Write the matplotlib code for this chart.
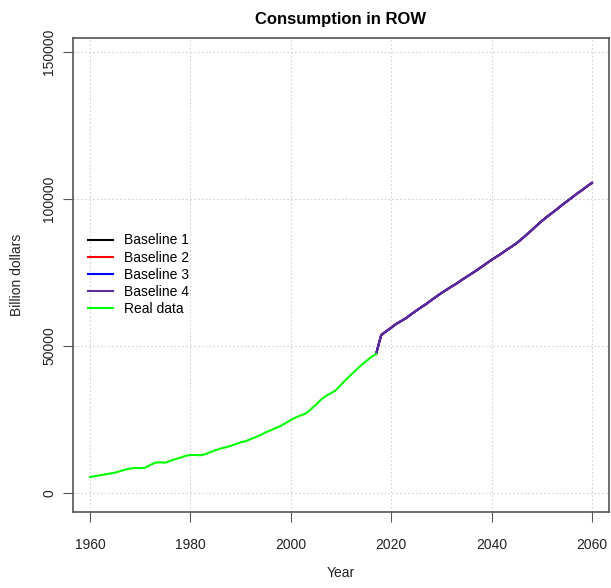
import matplotlib.pyplot as plt

plt.rcParams['font.family'] = ['Liberation Sans', 'DejaVu Sans']

# observed consumption, 1960-2017
real_years = list(range(1960, 2018))
real_vals = [5400, 5700, 6000, 6300, 6600, 6900, 7400, 7900, 8300, 8500,
             8400, 8600, 9500, 10300, 10400, 10300, 10900, 11500, 12000, 12600,
             12900, 12900, 12800, 13200, 13900, 14500, 15100, 15500, 16000, 16600,
             17200, 17600, 18300, 19000, 19700, 20600, 21300, 22100, 22800, 23800,
             24800, 25700, 26400, 27000, 28500, 30000, 31700, 33000, 33900, 35000,
             36800, 38600, 40200, 41800, 43400, 44800, 46200, 47300]

# baseline projections (all four overlap), 2017-2060
proj_years = list(range(2017, 2061))
proj_vals = [47300, 53700, 55000, 56200, 57500, 58500, 59500, 60800, 62000, 63200,
             64300, 65600, 66800, 68000, 69100, 70200, 71200, 72400, 73500, 74600,
             75700, 76900, 78100, 79300, 80400, 81500, 82700, 83800, 85000, 86400,
             87900, 89400, 91000, 92500, 93900, 95200, 96500, 97900, 99200, 100500,
             101800, 103000, 104300, 105500]

baselines = ['Baseline 1', 'Baseline 2', 'Baseline 3', 'Baseline 4']
base_colors = ['black', 'red', 'blue', '#5b2c9c']

fig = plt.figure(figsize=(6.11, 5.88), dpi=100)
ax = fig.add_axes([73 / 611, 76 / 588, 536 / 611, 474 / 588])

for name, col in zip(baselines, base_colors):
    ax.plot(proj_years, proj_vals, color=col, lw=1.5, label=name)
ax.plot(real_years, real_vals, color='#00ff00', lw=1.5, label='Real data')

ax.set_xlim(1956.6, 2063.4)
ax.set_ylim(-6500, 154800)
ax.set_xticks(range(1960, 2061, 20))
ax.set_yticks([0, 50000, 100000, 150000])
ax.set_yticklabels(['0', '50000', '100000', '150000'], rotation=90, va='center')
ax.grid(True, color='#d3d3d3', linestyle=(0, (1.5, 2)), lw=0.8)
ax.tick_params(length=7, width=0.8, colors='#555555', labelcolor='#222222',
               labelsize=10)
ax.tick_params(axis='x', pad=12)
ax.tick_params(axis='y', pad=5)
for s in ax.spines.values():
    s.set_color('#555555')
    s.set_linewidth(1.2)

ax.set_title('Consumption in ROW', fontsize=12, fontweight='bold', pad=10)
ax.set_xlabel('Year', fontsize=10, color='#222222', labelpad=10)
ax.set_ylabel('Billion dollars', fontsize=10, color='#222222', labelpad=13)

ax.legend(loc='upper left', bbox_to_anchor=(0.004, 0.614), frameon=False,
          fontsize=10, handlelength=1.8, labelspacing=0.22, handletextpad=0.8)

fig.savefig('out.png', dpi=100)
